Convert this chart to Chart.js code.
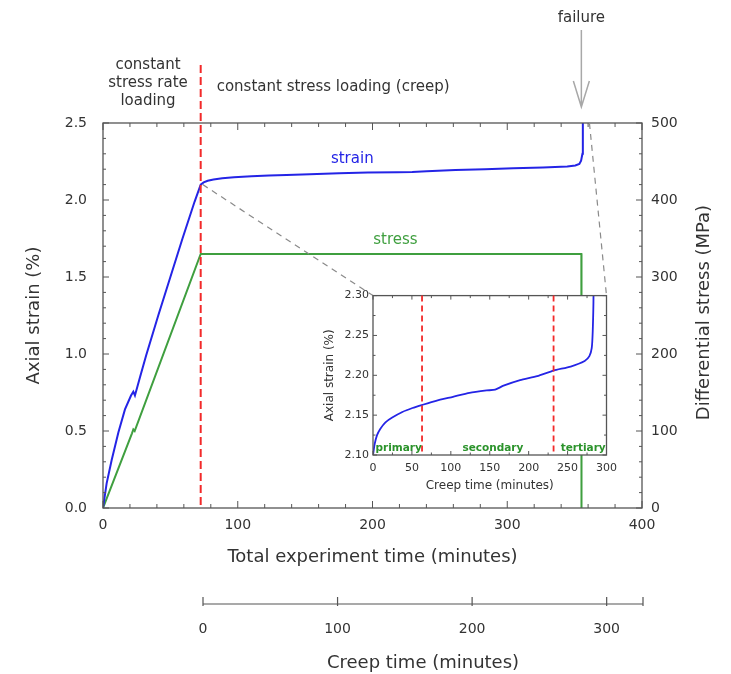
<!DOCTYPE html>
<html>
<head>
<meta charset="utf-8">
<script src="https://cdn.jsdelivr.net/npm/chart.js@4.4.1/dist/chart.umd.min.js"></script>
<style>
  html, body { margin: 0; padding: 0; background: #fff; }
  #wrap { position: relative; width: 731px; height: 674px; }
  canvas { position: absolute; }
  #main { left: 0; top: 0; }
  #inset { left: 318px; top: 285px; z-index: 2; }
  #creep { left: 0; top: 580px; }
</style>
</head>
<body>
<div id="wrap">
  <canvas id="main" width="731" height="580"></canvas>
  <canvas id="inset" width="306" height="215"></canvas>
  <canvas id="creep" width="731" height="94"></canvas>
</div>
<script>
// --- data ---
const LOAD_END = 72.5;    // end of constant stress rate loading (total min)
const FAIL_TIME = 355;    // failure (total min)
const CREEP_AXIS_MAX = 327;

const loadTime   = [0, 2.7, 6.4, 11.4, 16.3, 20.8, 22.5, 23.7, 27.5, 32, 41, 50, 59, 68, 72.5];
const loadStrain = [0, 0.16, 0.31, 0.49, 0.64, 0.73, 0.755, 0.73, 0.85, 0.99, 1.25, 1.5, 1.75, 1.99, 2.10];

const creepTime   = [0, 2.2, 5.2, 9.5, 16, 24.7, 37.7, 50.7, 63.7, 81, 102.7, 124, 146, 157, 167.7, 189, 211, 232, 254, 272, 278, 281, 282.3, 283.3, 283.6];
const creepStrain = [2.100, 2.114, 2.125, 2.133, 2.141, 2.147, 2.154, 2.159, 2.163, 2.168, 2.173, 2.178, 2.181, 2.182, 2.187, 2.194, 2.199, 2.206, 2.211, 2.218, 2.224, 2.234, 2.255, 2.30, 2.50];

const stressTime = [0, 21.5, 22.5, 23.5, 72.5, 355, 355.1];
const stressMPa  = [0, 97, 102, 100, 330, 330, 0];

const phaseBounds = [63, 232];               // creep minutes
const phaseNames  = ['primary', 'secondary', 'tertiary'];
const phaseLabelAt = [33, 154, 270];

const BLUE = '#2424e6', GREEN = '#3f9f3f', DKGREEN = '#2b932b', RED = '#f22a2a', TXT = '#333', AX = '#555';
const FAM = "'DejaVu Sans', Verdana, sans-serif";
Chart.defaults.font.family = FAM;
Chart.defaults.color = TXT;

// inward ticks + frame
const frameTicks = {
  id: 'frameTicks',
  beforeDraw(chart, args, o) {
    if (!o.fill) return;
    const a = chart.chartArea, ctx = chart.ctx;
    ctx.save(); ctx.fillStyle = o.fill;
    ctx.fillRect(a.left, a.top, a.right - a.left, a.bottom - a.top);
    ctx.restore();
  },
  afterDatasetsDraw(chart, args, o) {
    const { ctx, chartArea: a } = chart;
    ctx.save();
    ctx.strokeStyle = AX;
    ctx.lineWidth = 1;
    for (const t of o.ticks || []) {
      const sc = chart.scales[t.id];
      const n = Math.round((sc.max - sc.min) / t.minor);
      for (let i = 0; i <= n; i++) {
        const v = sc.min + i * t.minor;
        const major = Math.abs(v / t.major - Math.round(v / t.major)) < 1e-6;
        const len = major ? t.majorLen : t.minorLen;
        const p = sc.getPixelForValue(v);
        ctx.beginPath();
        for (const side of t.sides) {
          if (side === 'bottom') { ctx.moveTo(p, a.bottom); ctx.lineTo(p, a.bottom - len); }
          if (side === 'top') { ctx.moveTo(p, a.top); ctx.lineTo(p, a.top + len); }
          if (side === 'left') { ctx.moveTo(a.left, p); ctx.lineTo(a.left + len, p); }
          if (side === 'right') { ctx.moveTo(a.right, p); ctx.lineTo(a.right - len, p); }
        }
        ctx.stroke();
      }
    }
    ctx.lineWidth = 1.3;
    ctx.strokeRect(a.left, a.top, a.right - a.left, a.bottom - a.top);
    ctx.restore();
  }
};

const pts = (xs, ys, off = 0) => xs.map((x, i) => ({ x: x + off, y: ys[i] }));

// ---------- inset ----------
const insetNotes = {
  id: 'insetNotes',
  afterDatasetsDraw(chart) {
    const { ctx, chartArea: a, scales: { x } } = chart;
    ctx.save();
    ctx.strokeStyle = RED; ctx.lineWidth = 1.8; ctx.setLineDash([6, 4]);
    for (const b of phaseBounds) {
      const px = x.getPixelForValue(b);
      ctx.beginPath(); ctx.moveTo(px, a.top); ctx.lineTo(px, a.bottom); ctx.stroke();
    }
    ctx.setLineDash([]);
    ctx.fillStyle = DKGREEN; ctx.font = 'bold 10.5px ' + FAM;
    ctx.textAlign = 'center'; ctx.textBaseline = 'middle';
    phaseNames.forEach((nm, i) => ctx.fillText(nm, x.getPixelForValue(phaseLabelAt[i]), a.bottom - 7));
    ctx.restore();
  }
};

const insetChart = new Chart(document.getElementById('inset'), {
  type: 'line',
  data: { datasets: [{ data: pts(creepTime, creepStrain), borderColor: BLUE, borderWidth: 1.8, pointRadius: 0, tension: 0.2 }] },
  options: {
    responsive: false, animation: false,
    layout: { padding: { left: 0, top: 7, right: 12, bottom: 0 } },
    plugins: {
      legend: { display: false }, tooltip: { enabled: false },
      frameTicks: { fill: '#fff', ticks: [
        { id: 'x', minor: 25, major: 50, majorLen: 4, minorLen: 2.5, sides: ['bottom', 'top'] },
        { id: 'y', minor: 0.025, major: 0.05, majorLen: 4, minorLen: 2.5, sides: ['left', 'right'] }
      ] }
    },
    scales: {
      x: {
        type: 'linear', min: 0, max: 300,
        ticks: { stepSize: 50, padding: 7, font: { size: 11 }, maxRotation: 0 },
        grid: { display: false, drawTicks: false }, border: { display: false },
        title: { display: true, text: 'Creep time (minutes)', font: { size: 12 }, padding: { top: 0, bottom: 7 } },
        afterFit(s) { s.height = 45; }
      },
      y: {
        min: 2.10, max: 2.30,
        ticks: { stepSize: 0.05, padding: 4, font: { size: 11 }, callback: v => v.toFixed(2) },
        grid: { display: false, drawTicks: false }, border: { display: false },
        title: { display: true, text: 'Axial strain (%)', font: { size: 12 }, padding: { top: 5, bottom: 0 } },
        afterFit(s) { s.width = 55; }
      }
    }
  },
  plugins: [frameTicks, insetNotes]
});

// ---------- main ----------
const insetCanvas = document.getElementById('inset');
const mainNotes = {
  id: 'mainNotes',
  afterDraw(chart) {
    const { ctx, chartArea: a, scales: { x, y, y2 } } = chart;
    const font = s => s + 'px ' + FAM;
    ctx.save();
    // loading / creep boundary
    const xl = x.getPixelForValue(LOAD_END);
    ctx.strokeStyle = RED; ctx.lineWidth = 2; ctx.setLineDash([8, 4]);
    ctx.beginPath(); ctx.moveTo(xl, a.top - 58); ctx.lineTo(xl, a.bottom); ctx.stroke();

    // connectors to inset
    const ia = insetChart.chartArea;
    const il = insetCanvas.offsetLeft + ia.left, ir = insetCanvas.offsetLeft + ia.right, it = insetCanvas.offsetTop + ia.top;
    ctx.strokeStyle = '#8a8a8a'; ctx.lineWidth = 1.2; ctx.setLineDash([6, 5]);
    ctx.beginPath(); ctx.moveTo(xl + 2, y.getPixelForValue(2.10)); ctx.lineTo(il, it); ctx.stroke();
    ctx.beginPath(); ctx.moveTo(x.getPixelForValue(FAIL_TIME + 6), a.top); ctx.lineTo(ir, it); ctx.stroke();
    ctx.setLineDash([]);

    // failure arrow
    const xf = x.getPixelForValue(FAIL_TIME);
    ctx.strokeStyle = '#a8a8a8'; ctx.lineWidth = 1.5;
    ctx.beginPath(); ctx.moveTo(xf, a.top - 93); ctx.lineTo(xf, a.top - 16);
    ctx.moveTo(xf - 8, a.top - 42); ctx.lineTo(xf, a.top - 16); ctx.lineTo(xf + 8, a.top - 42); ctx.stroke();

    ctx.fillStyle = TXT; ctx.textBaseline = 'middle'; ctx.textAlign = 'center';
    ctx.font = font(15);
    ctx.fillText('failure', xf, a.top - 105);
    const xc = x.getPixelForValue(33.4);
    ctx.fillText('constant', xc, a.top - 58);
    ctx.fillText('stress rate', xc, a.top - 40);
    ctx.fillText('loading', xc, a.top - 22);
    ctx.textAlign = 'left';
    ctx.fillText('constant stress loading (creep)', xl + 16, a.top - 36);

    ctx.textAlign = 'center';
    ctx.fillStyle = BLUE; ctx.fillText('strain', x.getPixelForValue(185), y.getPixelForValue(2.266));
    ctx.fillStyle = GREEN; ctx.fillText('stress', x.getPixelForValue(217), y2.getPixelForValue(348));

    // right axis title, reading bottom to top
    ctx.fillStyle = TXT; ctx.font = font(18);
    ctx.translate(704, (a.top + a.bottom) / 2 - 3); ctx.rotate(-Math.PI / 2);
    ctx.fillText('Differential stress (MPa)', 0, 0);
    ctx.restore();
  }
};

new Chart(document.getElementById('main'), {
  type: 'line',
  data: { datasets: [
    { label: 'strain', data: pts(loadTime, loadStrain).concat(pts(creepTime, creepStrain, LOAD_END)), yAxisID: 'y', borderColor: BLUE, borderWidth: 2, pointRadius: 0, tension: 0 },
    { label: 'stress', data: pts(stressTime, stressMPa), yAxisID: 'y2', borderColor: GREEN, borderWidth: 2, pointRadius: 0, tension: 0 }
  ] },
  options: {
    responsive: false, animation: false,
    layout: { padding: { left: 0, top: 123, right: 0, bottom: 0 } },
    plugins: {
      legend: { display: false }, tooltip: { enabled: false },
      frameTicks: { ticks: [
        { id: 'x', minor: 20, major: 100, majorLen: 7, minorLen: 4, sides: ['bottom', 'top'] },
        { id: 'y', minor: 0.1, major: 0.5, majorLen: 6, minorLen: 3, sides: ['left'] },
        { id: 'y2', minor: 20, major: 100, majorLen: 6, minorLen: 3, sides: ['right'] }
      ] }
    },
    scales: {
      x: {
        type: 'linear', min: 0, max: 400,
        ticks: { stepSize: 100, padding: 9, font: { size: 14 }, maxRotation: 0 },
        grid: { display: false, drawTicks: false }, border: { display: false },
        title: { display: true, text: 'Total experiment time (minutes)', font: { size: 18 }, padding: { top: 0, bottom: 12 } },
        afterFit(s) { s.height = 72; }
      },
      y: {
        min: 0, max: 2.5,
        ticks: { stepSize: 0.5, padding: 16, font: { size: 14 }, callback: v => v.toFixed(1) },
        grid: { display: false, drawTicks: false }, border: { display: false },
        title: { display: true, text: 'Axial strain (%)', font: { size: 18 }, padding: { top: 24, bottom: 0 } },
        afterFit(s) { s.width = 103; }
      },
      y2: {
        position: 'right', min: 0, max: 500,
        ticks: { stepSize: 100, padding: 9, font: { size: 14 } },
        grid: { display: false, drawTicks: false }, border: { display: false },
        afterFit(s) { s.width = 89; }
      }
    }
  },
  plugins: [frameTicks, mainNotes]
});

// ---------- creep time axis ----------
const creepAxis = {
  id: 'creepAxis',
  afterDraw(chart) {
    const { ctx, chartArea: a, scales: { x } } = chart;
    ctx.save();
    ctx.strokeStyle = AX; ctx.lineWidth = 1.2;
    ctx.beginPath(); ctx.moveTo(a.left, a.bottom); ctx.lineTo(a.right, a.bottom);
    const vals = x.ticks.map(t => t.value).concat([x.max]);
    for (const v of vals) {
      const p = x.getPixelForValue(v);
      ctx.moveTo(p, a.bottom - 7); ctx.lineTo(p, a.bottom + 2);
    }
    ctx.stroke();
    ctx.restore();
  }
};

new Chart(document.getElementById('creep'), {
  type: 'line',
  data: { datasets: [{ data: [] }] },
  options: {
    responsive: false, animation: false,
    layout: { padding: { left: 203, top: 0, right: 88, bottom: 0 } },
    plugins: { legend: { display: false }, tooltip: { enabled: false } },
    scales: {
      x: {
        type: 'linear', min: 0, max: CREEP_AXIS_MAX,
        ticks: { stepSize: 100, includeBounds: false, padding: 17, font: { size: 14 }, maxRotation: 0 },
        grid: { display: false, drawTicks: false }, border: { display: false },
        title: { display: true, text: 'Creep time (minutes)', font: { size: 18 }, padding: { top: 0, bottom: 0 } },
        afterFit(s) { s.height = 70; }
      },
      y: { display: false, min: 0, max: 1 }
    }
  },
  plugins: [creepAxis]
});
</script>
</body>
</html>
